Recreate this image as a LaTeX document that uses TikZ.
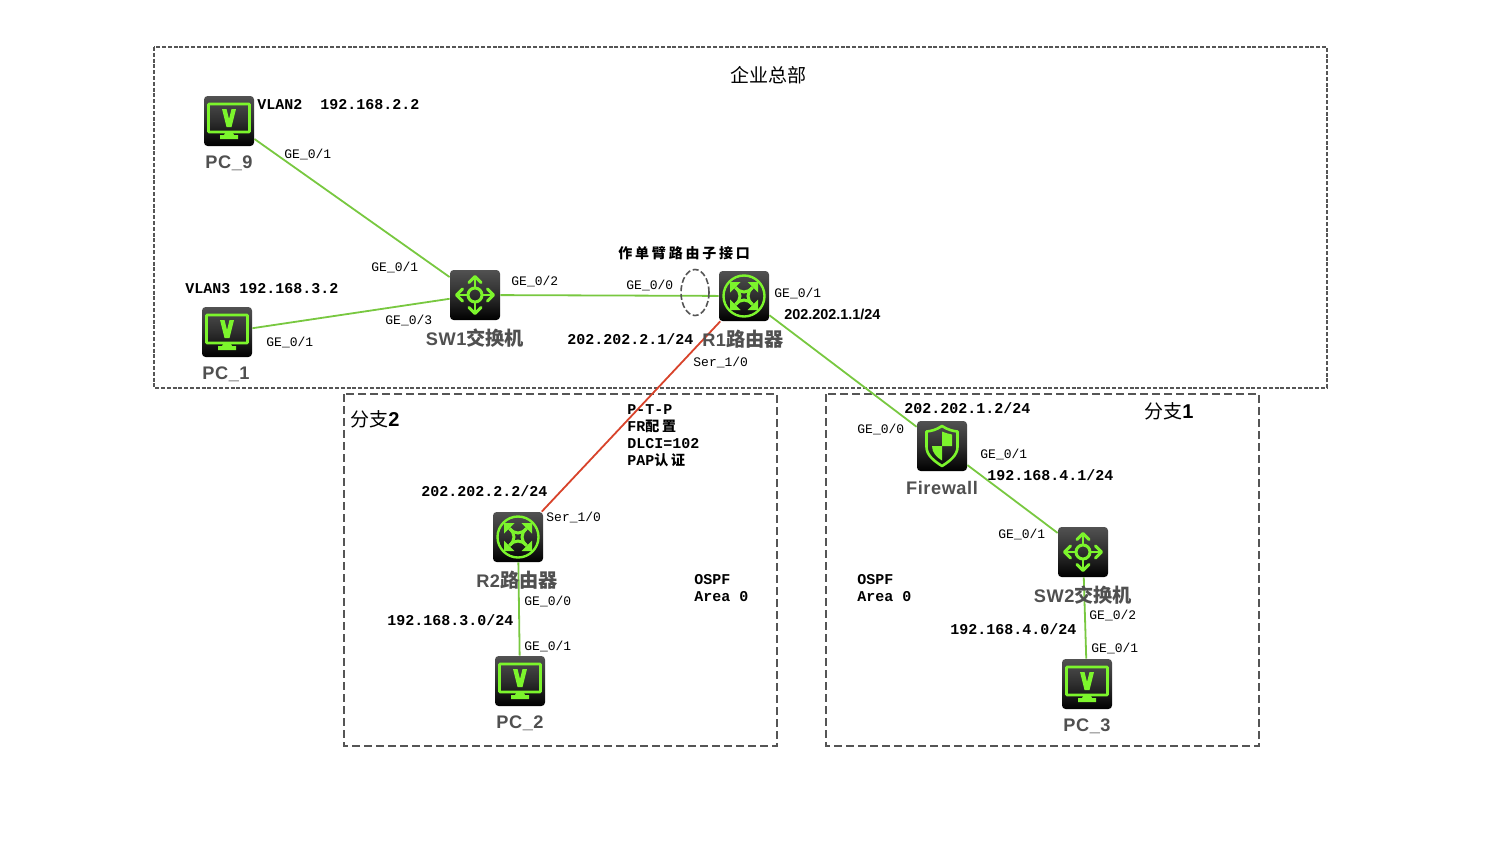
\documentclass[tikz,border=0pt]{standalone}
\usepackage{fontspec}
\usetikzlibrary{shapes.geometric}
\setmainfont{Liberation Sans}
\newfontfamily\mono{Liberation Mono}
\newfontfamily\zh{Noto Sans CJK SC}
\newfontfamily\zhsp[LetterSpace=20]{Noto Sans CJK SC}
\newfontfamily\namesp[LetterSpace=3]{Liberation Sans}
\definecolor{lnk}{HTML}{78C840}
\definecolor{glyph}{HTML}{7CF52C}
\definecolor{redl}{HTML}{D8432B}
\definecolor{boxc}{HTML}{555555}
\definecolor{namec}{HTML}{505050}
\tikzset{
 x=0.5pt,y=-0.5pt,
 dev/.style={minimum size=25pt,inner sep=0pt,rounded corners=1.8pt,top color=black!68,bottom color=black,middle color=black!82,draw=none},
 zone/.style={draw=boxc,line width=1pt,dash pattern=on 4pt off 2pt},
 toplink/.style={draw=boxc,line width=0.8pt,dash pattern=on 2pt off 0.9pt},
 lnkg/.style={draw=lnk,line width=0.9pt},
 lnkr/.style={draw=redl,line width=0.9pt},
 lab/.style={anchor=west,inner sep=0pt,font=\mono\fontsize{6.5pt}{7pt}\selectfont},
 blab/.style={anchor=west,inner sep=0pt,font=\mono\bfseries\fontsize{7.5pt}{8.5pt}\selectfont},
 arial/.style={anchor=west,inner sep=0pt,font=\bfseries\fontsize{7.2pt}{8pt}\selectfont},
 cjkb/.style={anchor=west,inner sep=0pt,font=\zhsp\bfseries\fontsize{7pt}{8pt}\selectfont},
 head/.style={anchor=west,inner sep=0pt,font=\zh\fontsize{9.5pt}{10pt}\selectfont},
 devname/.style={anchor=center,inner sep=0pt,text=namec,font=\namesp\bfseries\fontsize{9.1pt}{10pt}\selectfont},
 gl/.style={draw=glyph,line width=1.3pt,fill=none},
 glf/.style={fill=glyph,draw=none},
}
\newcommand\zb[1]{{\zhsp\bfseries\fontsize{7pt}{8pt}\selectfont #1}}
\newcommand\zn[1]{{\zh\fontsize{9.6pt}{10pt}\selectfont #1}}
\newcommand\pcglyph[1]{\begin{scope}[shift={(#1.center)}]
 \draw[gl,rounded corners=0.4pt] (-20.5,-17) rectangle (20.5,11);
 \fill[glf] (-7,-12) -- (-2.5,-12) -- (0,-2) -- (2.5,-12) -- (7,-12) -- (2.5,6) -- (-2.5,6) -- cycle;
 \fill[glf] (-4,12) -- (4,12) -- (5,14) -- (9,14) -- (9,18) -- (-9,18) -- (-9,14) -- (-5,14) -- cycle;
\end{scope}}
\newcommand\routerglyph[1]{\begin{scope}[shift={(#1.center)}]
 \draw[draw=glyph,line width=1.2pt] (0,0) circle (20.5);
 \foreach \a in {0,90,180,270}{
  \begin{scope}[rotate=\a]
   \draw[draw=glyph,line width=1.5pt] (-8.5,-8.5) .. controls (-3,-2.5) and (3,-2.5) .. (8.5,-8.5);
   \fill[glf] (-14,-14) -- (-3.5,-14) -- (-14,-3.5) -- cycle;
  \end{scope}}
\end{scope}}
\newcommand\switchglyph[1]{\begin{scope}[shift={(#1.center)}]
 \draw[draw=glyph,line width=1.5pt] (0,0) circle (7);
 \foreach \a in {0,90,180,270}{
  \begin{scope}[rotate=\a]
   \draw[draw=glyph,line width=1.4pt] (7,0) -- (18,0);
   \draw[draw=glyph,line width=1.5pt,line cap=round,line join=round] (12.5,-6) -- (18.5,0) -- (12.5,6);
  \end{scope}}
\end{scope}}
\newcommand\fwglyph[1]{\begin{scope}[shift={(#1.center)}]
 \draw[gl,line join=round] (0,-20) .. controls (-6,-16) and (-11,-15) .. (-15.5,-14.5) -- (-15.5,1) .. controls (-15.5,9) and (-8,15) .. (0,20) .. controls (8,15) and (15.5,9) .. (15.5,1) -- (15.5,-14.5) .. controls (11,-15) and (6,-16) .. (0,-20) -- cycle;
 \fill[glf] (0,-14.5) .. controls (3.5,-13) and (7,-12) .. (10,-11.5) -- (10,0) -- (0,0) -- cycle;
 \fill[glf] (0,0) -- (-10,0) .. controls (-10,6) and (-6,11) .. (0,14.5) -- cycle;
\end{scope}}
\begin{document}
\begin{tikzpicture}
\useasboundingbox (0,0) rectangle (1497,867);
\fill[white] (0,0) rectangle (1497,867);
% zones
\draw[toplink] (154,47) rectangle (1327,388);
\draw[zone] (344,394) rectangle (777,746);
\draw[zone] (826,394) rectangle (1259,746);
% devices
\node[dev] (pc9) at (229,121) {};
\node[dev] (pc1) at (227,332) {};
\node[dev] (sw1) at (475,295) {};
\node[dev] (r1) at (744,296) {};
\node[dev] (r2) at (518,537) {};
\node[dev] (fw) at (942,446) {};
\node[dev] (sw2) at (1083,552) {};
\node[dev] (pc2) at (520,681) {};
\node[dev] (pc3) at (1087,684) {};
\pcglyph{pc9}\pcglyph{pc1}\pcglyph{pc2}\pcglyph{pc3}
\switchglyph{sw1}\switchglyph{sw2}
\routerglyph{r1}\routerglyph{r2}
\fwglyph{fw}
% links
\draw[lnkg] (pc9) -- (sw1);
\draw[lnkg] (pc1) -- (sw1);
\draw[lnkg] (sw1) -- (r1);
\draw[lnkg] (r1) -- (fw);
\draw[lnkg] (fw) -- (sw2);
\draw[lnkg] (sw2) -- (pc3);
\draw[lnkg] (r2) -- (pc2);
\draw[lnkr] (r1) -- (r2);
% subinterface ellipse
\node[draw=boxc,line width=0.8pt,dash pattern=on 3pt off 1.3pt,ellipse,minimum width=14pt,minimum height=23pt,inner sep=0pt] (sub) at (695,292.5) {};
% device names
\node[devname] (npc9) at (229,163) {PC\_9};
\node[devname] (npc1) at (226,374) {PC\_1};
\node[devname] (nsw1) at (475,338) {SW1\zn{交换机}};
\node[devname] (nr1) at (743,339) {R1\zn{路由器}};
\node[devname] (nr2) at (517,580) {R2\zn{路由器}};
\node[devname] (nfw) at (942,488) {Firewall};
\node[devname] (nsw2) at (1083,595) {SW2\zn{交换机}};
\node[devname] (npc2) at (520,723) {PC\_2};
\node[devname] (npc3) at (1087,726) {PC\_3};
% port labels
\node[lab] (p1) at (284,154) {GE\_0/1};
\node[lab] (p2) at (371,267) {GE\_0/1};
\node[lab] (p3) at (385,320) {GE\_0/3};
\node[lab] (p4) at (266,342) {GE\_0/1};
\node[lab] (p5) at (511,281) {GE\_0/2};
\node[lab] (p6) at (626,285) {GE\_0/0};
\node[lab] (p7) at (774,293) {GE\_0/1};
\node[lab] (p8) at (693,362) {Ser\_1/0};
\node[lab] (p9) at (857,429) {GE\_0/0};
\node[lab] (p10) at (980,454) {GE\_0/1};
\node[lab] (p11) at (998,534) {GE\_0/1};
\node[lab] (p12) at (1089,615) {GE\_0/2};
\node[lab] (p13) at (1091,648) {GE\_0/1};
\node[lab] (p14) at (546,517) {Ser\_1/0};
\node[lab] (p15) at (524,601) {GE\_0/0};
\node[lab] (p16) at (524,646) {GE\_0/1};
% addresses
\node[blab] (a1) at (257,105) {VLAN2\ \ 192.168.2.2};
\node[blab] (a2) at (185,289) {VLAN3 192.168.3.2};
\node[blab] (a3) at (567,339) {202.202.2.1/24};
\node[arial] (a4) at (784,314) {202.202.1.1/24};
\node[blab] (a5) at (904,408) {202.202.1.2/24};
\node[blab] (a6) at (987,475) {192.168.4.1/24};
\node[blab] (a7) at (421,491) {202.202.2.2/24};
\node[blab] (a8) at (387,620) {192.168.3.0/24};
\node[blab] (a9) at (950,629) {192.168.4.0/24};
\node[blab,align=left] (o1) at (694,588.5) {OSPF\\Area 0};
\node[blab,align=left] (o2) at (857,588.5) {OSPF\\Area 0};
\node[blab,align=left] (fr) at (627,435.5) {P-T-P\\FR\zb{配置}\\DLCI=102\\PAP\zb{认证}};
% headings
\node[cjkb] (t1) at (618,253) {作单臂路由子接口};
\node[head] (t2) at (730,75) {企业总部};
\node[head] (t3) at (350,419) {\zh 分支\bfseries\rmfamily\fontsize{10pt}{11pt}\selectfont 2};
\node[head] (t4) at (1144,411) {\zh 分支\bfseries\rmfamily\fontsize{10pt}{11pt}\selectfont 1};
\end{tikzpicture}
\end{document}
